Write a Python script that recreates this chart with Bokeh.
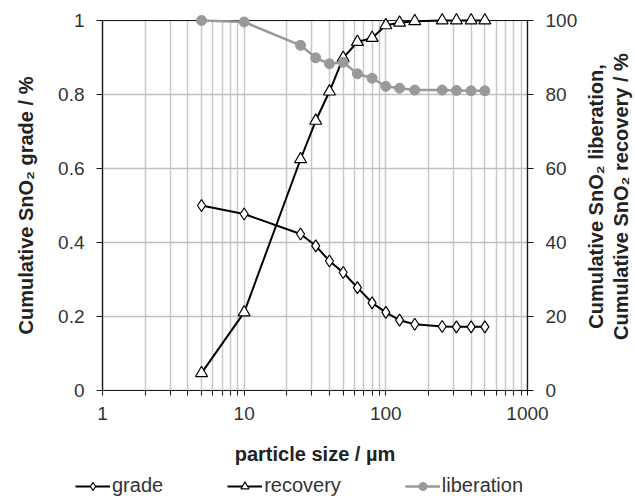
from bokeh.plotting import figure
from bokeh.models import (Range1d, LinearAxis, LogAxis, LogScale, FixedTicker,
                          NumeralTickFormatter, Legend, LegendItem, Label, BoxAnnotation, Grid)
from bokeh.embed import file_html
from bokeh.resources import INLINE

# ---- data ----
size_um = [5, 10, 25, 32, 40, 50, 63, 80, 100, 125, 160, 250, 315, 400, 500]
grade = [0.500, 0.477, 0.423, 0.391, 0.350, 0.319, 0.278, 0.237, 0.211, 0.190,
         0.179, 0.173, 0.172, 0.172, 0.172]
recovery = [4.7, 21.1, 62.5, 72.9, 80.8, 89.9, 94.2, 95.3, 98.7, 99.4, 99.8,
            100.0, 100.0, 100.0, 100.0]
liberation = [100.0, 99.6, 93.3, 89.9, 88.3, 88.7, 85.6, 84.4, 82.2, 81.7, 81.2,
              81.2, 81.1, 81.0, 81.0]

x_ticks = [1, 10, 100, 1000]
x_minor = [m * d for d in (1, 10, 100) for m in range(2, 10)]
y_left_ticks = [0, 0.2, 0.4, 0.6, 0.8, 1]
y_right_ticks = [0, 20, 40, 60, 80, 100]

# ---- layout constants (pixels) ----
W, H = 633, 497
PL, PR, PT, PB = 102, 527, 20, 390       # plot-area edges on the canvas
DEC = (PR - PL) / 3.0                    # pixels per decade
x_lo = 10 ** (-PL / DEC)
x_hi = 10 ** (3 + (W - PR) / DEC)
y_lo = -(H - PB) / (PB - PT)
y_hi = 1 + PT / (PB - PT)

FONT = "Liberation Sans"
TXT = "#333333"
AX = "#1a1a1a"

p = figure(x_axis_type=None, y_axis_type=None, x_axis_location=None, y_axis_location=None,
           x_range=Range1d(x_lo, x_hi), y_range=Range1d(y_lo, y_hi),
           width=W, height=H, min_border=0,
           output_backend="svg", toolbar_location=None)
p.x_scale = LogScale()
p.extra_y_ranges = {"pct": Range1d(y_lo * 100, y_hi * 100)}
p.outline_line_color = None

# axes, pinned to the plot-area edges
xa = LogAxis(fixed_location=0, bounds=(1, 1000),
             ticker=FixedTicker(ticks=x_ticks, minor_ticks=x_minor),
             major_label_overrides={1: "1", 10: "10", 100: "100", 1000: "1000"},
             axis_label="particle size / µm")
ya = LinearAxis(fixed_location=1, bounds=(0, 1), ticker=FixedTicker(ticks=y_left_ticks),
                formatter=NumeralTickFormatter(format="0.[0]"),
                axis_label="Cumulative SnO₂ grade / %")
ra = LinearAxis(fixed_location=1000, bounds=(0, 100), y_range_name="pct",
                ticker=FixedTicker(ticks=y_right_ticks))
p.add_layout(xa, "below")
p.add_layout(ya, "left")
p.add_layout(ra, "right")

for ax in (xa, ya, ra):
    ax.axis_line_color = AX
    ax.axis_line_width = 1.2
    ax.major_tick_line_color = AX
    ax.minor_tick_line_color = AX
    ax.major_tick_in = 0
    ax.minor_tick_in = 0
    ax.major_label_text_font = FONT
    ax.major_label_text_font_size = "19px"
    ax.major_label_text_color = TXT
    ax.axis_label_text_font = FONT
    ax.axis_label_text_font_size = "20px"
    ax.axis_label_text_font_style = "bold"
    ax.axis_label_text_color = "#222222"
xa.major_tick_out = 5
xa.minor_tick_out = 5
xa.major_label_standoff = 11
xa.axis_label_standoff = 20
ya.major_tick_out = 6
ya.minor_tick_out = 0
ya.major_label_standoff = 12
ya.axis_label_standoff = 18
ra.major_tick_out = 6
ra.minor_tick_out = 0
ra.major_label_standoff = 12

# grids (added before the masks so that the masks hide them outside the plot area)
p.add_layout(Grid(dimension=0, ticker=xa.ticker,
                  grid_line_color="#c8c8c8", grid_line_width=1.5,
                  minor_grid_line_color="#c8c8c8", minor_grid_line_width=1.5))
p.add_layout(Grid(dimension=1, ticker=ya.ticker,
                  grid_line_color="#c0c0c0", grid_line_width=1.5))

# white masks outside the plot area, then the plot-area border
for kw in (dict(top=0), dict(bottom=1), dict(right=1), dict(left=1000)):
    p.add_layout(BoxAnnotation(fill_color="white", fill_alpha=1, line_alpha=0,
                               level="underlay", **kw))
p.add_layout(BoxAnnotation(left=1, right=1000, bottom=0, top=1, fill_alpha=0,
                           line_color=AX, line_width=1.2, line_alpha=1, level="underlay"))

# series
r_gl = p.line(size_um, grade, line_color="black", line_width=2)
r_gm = p.scatter(size_um, grade, marker="diamond", size=12,
                 fill_color="white", line_color="black", line_width=1.2)
r_rl = p.line(size_um, recovery, y_range_name="pct", line_color="black", line_width=2)
r_rm = p.scatter(size_um, recovery, y_range_name="pct", marker="triangle", size=12,
                 fill_color="white", line_color="black", line_width=1.2)
r_ll = p.line(size_um, liberation, y_range_name="pct", line_color="#999999", line_width=2.5)
r_lm = p.scatter(size_um, liberation, y_range_name="pct", marker="circle", size=10,
                 fill_color="#999999", line_color="#999999")

# right-hand two-line axis title (reads bottom to top)
p.add_layout(Label(x=608, y=H - 196, x_units="screen", y_units="screen",
                   text="Cumulative SnO₂ liberation,\nCumulative SnO₂ recovery / %",
                   angle=90, angle_units="deg", text_align="center", text_baseline="middle",
                   text_font=FONT, text_font_size="20px", text_font_style="bold",
                   text_color="#222222", text_line_height=1.1))

legend = Legend(items=[LegendItem(label="grade", renderers=[r_gl, r_gm]),
                       LegendItem(label="recovery", renderers=[r_rl, r_rm]),
                       LegendItem(label="liberation", renderers=[r_ll, r_lm])],
                orientation="horizontal", location=(75, 0),
                glyph_width=35, glyph_height=20, label_standoff=2, spacing=64,
                padding=0, margin=0, border_line_alpha=0, background_fill_alpha=0,
                label_text_font=FONT, label_text_font_size="20px", label_text_color=TXT)
p.add_layout(legend, "center")

open("out.html", "w").write(file_html(p, INLINE))
